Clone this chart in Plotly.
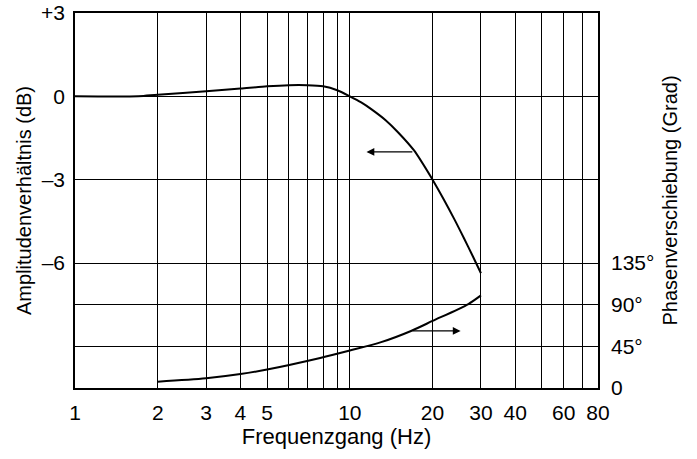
import math
import plotly.graph_objects as go

# Amplitude response (dB) vs frequency (Hz)
amp_freq = [1, 1.7, 2, 3, 4, 5, 6, 7, 8, 9, 10, 11, 12, 13.5, 15, 17.1, 20, 22, 24, 26, 28, 30]
amp_db = [0, 0, 0.06, 0.18, 0.28, 0.36, 0.40, 0.40, 0.36, 0.22, 0.0, -0.22, -0.47, -0.86, -1.3, -1.94, -3.0, -3.72, -4.42, -5.1, -5.75, -6.37]

# Phase shift (degrees) vs frequency (Hz)
ph_freq = [2, 3, 4, 5, 7.8, 10, 13, 16.7, 20, 27, 30]
ph_deg = [6.8, 10.5, 15, 20, 32.5, 40.5, 49.5, 61.6, 72.4, 90.7, 100]

x_tickvals = [1, 2, 3, 4, 5, 10, 20, 30, 40, 60, 80]
x_ticktext = ["1", "2", "3", "4", "5", "10", "20", "30", "40", "60", "80"]
x_minor = [6, 7, 8, 9, 50, 70]

y_tickvals = [3, 0, -3, -6]
y_ticktext = ["+3", "0", "–3", "–6"]

y2_tickvals = [0, 45, 90, 135]
y2_ticktext = ["0", "45°", "90°", "135°"]

FONT = "Liberation Sans, Arial, sans-serif"

fig = go.Figure()
fig.add_trace(go.Scatter(x=amp_freq, y=amp_db, mode="lines",
                         line=dict(color="black", width=2, shape="spline", smoothing=0.8),
                         showlegend=False, hoverinfo="skip"))
fig.add_trace(go.Scatter(x=ph_freq, y=ph_deg, mode="lines", yaxis="y2",
                         line=dict(color="black", width=2, shape="spline", smoothing=0.8),
                         showlegend=False, hoverinfo="skip"))

fig.update_layout(
    width=697, height=459,
    margin=dict(l=75, r=99, t=13, b=71),
    paper_bgcolor="white", plot_bgcolor="white",
    font=dict(family=FONT, size=21, color="black"),
    xaxis=dict(
        type="log", range=[0, math.log10(80)], automargin=False,
        tickmode="array", tickvals=x_tickvals, ticktext=x_ticktext,
        showgrid=True, gridcolor="black", gridwidth=1.3,
        minor=dict(tickmode="array", tickvals=x_minor, showgrid=True,
                   gridcolor="black", gridwidth=1.3, ticks=""),
        ticks="", showline=True, linecolor="black", linewidth=1.5, mirror=True,
        zeroline=False, ticklabelstandoff=5,
        title=dict(text="Frequenzgang (Hz)", font=dict(size=22), standoff=6),
    ),
    yaxis=dict(
        range=[-10.5, 3], automargin=False,
        tickmode="array", tickvals=y_tickvals, ticktext=y_ticktext,
        showgrid=True, gridcolor="black", gridwidth=1.3,
        ticks="", showline=True, linecolor="black", linewidth=1.5, mirror=True,
        zeroline=False, ticklabelstandoff=4,
        title=dict(text="Amplitudenverhältnis (dB)", font=dict(size=20), standoff=4),
    ),
    yaxis2=dict(
        overlaying="y", side="right", range=[0, 405], automargin=False,
        tickmode="array", tickvals=y2_tickvals, ticktext=y2_ticktext,
        showgrid=True, gridcolor="black", gridwidth=1.3,
        ticks="", showline=False, zeroline=False, ticklabelstandoff=12,
        title=dict(text="Phasenverschiebung (Grad)", font=dict(size=20), standoff=9),
    ),
)

fig.add_annotation(x=math.log10(11.5), y=-2.0, xref="x", yref="y",
                   ax=math.log10(17.1), ay=-2.0, axref="x", ayref="y",
                   showarrow=True, arrowhead=2, arrowsize=1.2, arrowwidth=1.3,
                   arrowcolor="black", text="")
fig.add_annotation(x=math.log10(25.3), y=61.6, xref="x", yref="y2",
                   ax=math.log10(16.7), ay=61.6, axref="x", ayref="y2",
                   showarrow=True, arrowhead=2, arrowsize=1.2, arrowwidth=1.3,
                   arrowcolor="black", text="")

fig.write_html("out.html", config={"displayModeBar": False},
               post_script="document.body.style.margin='0';document.body.style.overflow='hidden';")
